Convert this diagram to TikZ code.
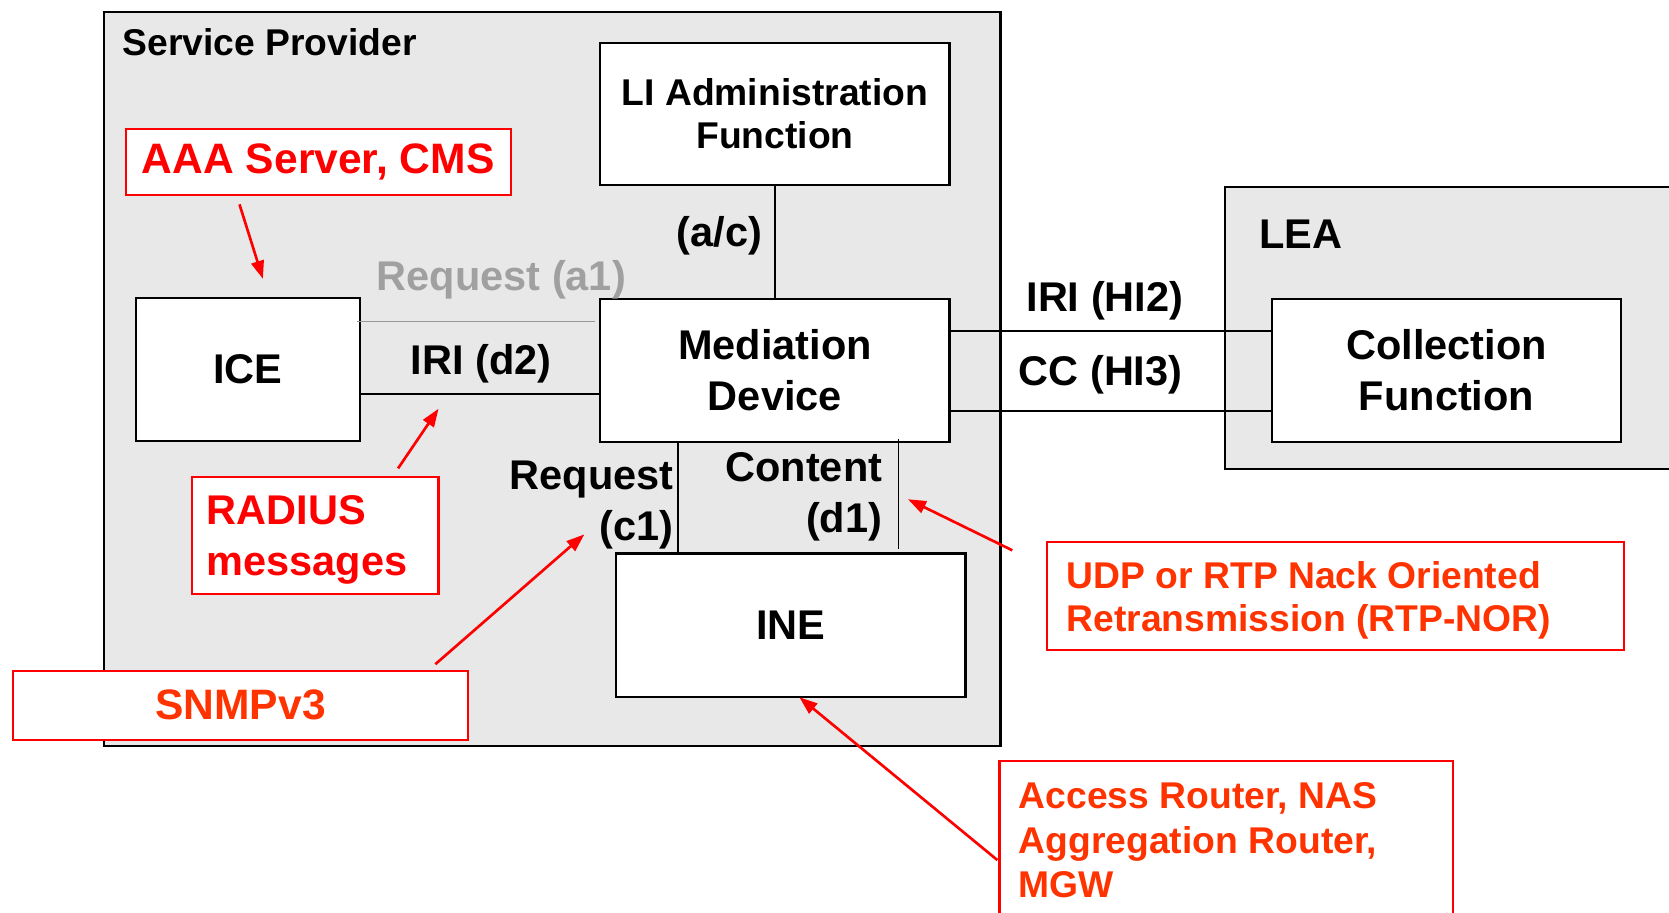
\documentclass[tikz,border=0pt]{standalone}
\usepackage{fontspec}
\setmainfont{Liberation Sans}
\usetikzlibrary{arrows.meta}
\definecolor{bggray}{RGB}{232,232,232}
\definecolor{lblgray}{RGB}{160,160,160}
\definecolor{linegray}{RGB}{150,150,150}
\definecolor{ored}{RGB}{255,51,0}
\tikzset{
  area/.style={draw=black,line width=2pt,fill=bggray,inner sep=0pt,anchor=north west},
  box/.style={draw=black,line width=2pt,fill=white,inner sep=0pt,align=center,font=\bfseries\fontsize{39}{48}\selectfont},
  redbox/.style={draw=red,line width=2pt,fill=white,inner sep=0pt,anchor=north west},
  lbl/.style={inner sep=0pt,font=\bfseries\fontsize{39}{48}\selectfont},
  conn/.style={draw=black,line width=1.6pt},
  redarrow/.style={draw=red,line width=2.5pt,-{Triangle[length=17pt,width=12pt]}},
}
\begin{document}
\begin{tikzpicture}[x=1pt,y=-1pt]
\useasboundingbox (0,0) rectangle (1568,857);
% areas
\node[area,minimum width=842pt,minimum height=690pt] (sp) at (97,10) {};
\node[lbl,anchor=base west,font=\bfseries\fontsize{35}{40}\selectfont] (sptxt) at (115,52) {Service Provider};
\node[area,minimum width=440pt,minimum height=265pt] (lea) at (1150,175) {};
\node[lbl,anchor=base west] (leatxt) at (1183,233) {LEA};
% main boxes
\node[box,minimum width=328pt,minimum height=134pt,font=\bfseries\fontsize{35}{40}\selectfont] (li) at (728,107) {LI Administration\\Function};
\node[box,minimum width=210pt,minimum height=134pt] (ice) at (233,347) {ICE};
\node[box,minimum width=328pt,minimum height=134pt] (med) at (728,348) {Mediation\\Device};
\node[box,minimum width=328pt,minimum height=135pt] (ine) at (743,587.5) {INE};
\node[box,minimum width=328pt,minimum height=134pt] (cf) at (1359,348) {Collection\\Function};
% connectors
\draw[conn] (li.south) -- (med.north);
\draw[draw=linegray,line width=1.4pt] ([xshift=-4pt,yshift=45pt]ice.east) -- ([xshift=-4pt,yshift=45pt]ice.east -| med.west);
\draw[conn] ([yshift=-23pt]ice.east) -- ([yshift=-23pt]ice.east -| med.west);
\draw[conn] ([yshift=37pt]med.east) -- ([yshift=37pt]cf.west);
\draw[conn] ([yshift=-38pt]med.east) -- ([yshift=-38pt]cf.west);
\draw[conn] ([xshift=-91pt]med.south) -- ([xshift=-91pt]med.south |- ine.north);
\draw[conn] ([xshift=116pt,yshift=4pt]med.south) -- ([xshift=116pt,yshift=3pt]med.south |- ine.north);
% connector labels
\node[lbl,anchor=base east] (ac) at (716,232) {(a/c)};
\node[lbl,anchor=base,text=lblgray] (a1) at (471,273) {Request (a1)};
\node[lbl,anchor=base] (d2) at (452,352) {IRI (d2)};
\node[lbl,anchor=base] (hi2) at (1038,293) {IRI (HI2)};
\node[lbl,anchor=base] (hi3) at (1034,362) {CC (HI3)};
\node[lbl,anchor=north east,align=right] (c1) at (633,433) {Request\\(c1)};
\node[lbl,anchor=north east,align=right] (d1) at (829,425) {Content\\(d1)};
% red annotation boxes
\node[redbox,minimum width=362pt,minimum height=62pt] (aaa) at (117,120) {};
\node[lbl,text=red,font=\bfseries\fontsize{40}{48}\selectfont] (aaatxt) at (aaa.center) {AAA Server, CMS};
\node[redbox,minimum width=232pt,minimum height=110pt] (rad) at (179,447) {};
\node[lbl,text=red,anchor=north west,align=left] (radtxt) at (194,465) {RADIUS\\messages};
\node[redbox,minimum width=428pt,minimum height=65pt] (snmp) at (11,629) {};
\node[lbl,text=ored,font=\bfseries\fontsize{40}{48}\selectfont] (snmptxt) at (snmp.center) {SNMPv3};
\node[redbox,minimum width=542pt,minimum height=102pt] (udp) at (983,508) {};
\node[lbl,text=ored,anchor=north west,align=left,font=\bfseries\fontsize{35}{41}\selectfont] (udptxt) at (1002,527) {UDP or RTP Nack Oriented\\Retransmission (RTP-NOR)};
\node[redbox,minimum width=426pt,minimum height=170pt] (acc) at (938,714) {};
\node[lbl,text=ored,anchor=north west,align=left,font=\bfseries\fontsize{35}{42}\selectfont] (acctxt) at (957,735) {Access Router, NAS\\Aggregation Router,\\MGW};
% red arrows
\coordinate (a1s) at (225,192);
\coordinate (a1t) at (247,262);
\coordinate (a2s) at (374,440);
\coordinate (a2t) at (412,384);
\coordinate (a3s) at (409,624);
\coordinate (a3t) at (549,502);
\coordinate (a4s) at (951,517);
\coordinate (a4t) at (853,469);
\coordinate (a5s) at (937,808);
\coordinate (a5t) at (751,655);
\draw[redarrow] (a1s) -- (a1t);
\draw[redarrow] (a2s) -- (a2t);
\draw[redarrow] (a3s) -- (a3t);
\draw[redarrow] (a4s) -- (a4t);
\draw[redarrow] (a5s) -- (a5t);
\end{tikzpicture}
\end{document}
